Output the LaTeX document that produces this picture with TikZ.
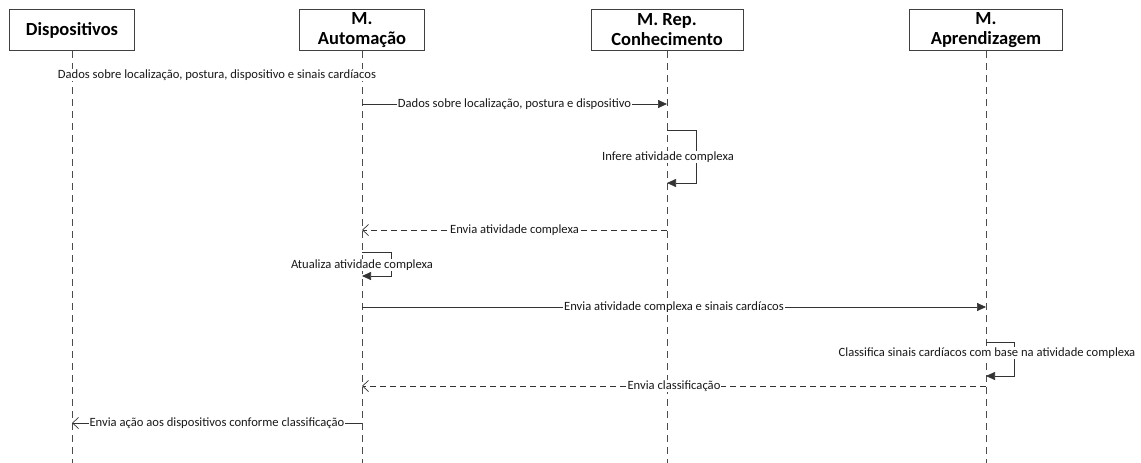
\documentclass[tikz,border=0pt]{standalone}
\usepackage{fontspec}
\setmainfont{Carlito}
\usetikzlibrary{arrows.meta}
\begin{document}
\begin{tikzpicture}[x=1pt,y=-1pt,
  actor/.style={draw=black!75,line width=1pt,fill=white,align=center,
    font=\fontsize{18.5}{20}\selectfont\bfseries,minimum height=41pt,inner sep=0pt},
  lifeline/.style={draw=black!70,line width=0.8pt,dash pattern=on 7pt off 5pt},
  msg/.style={draw=black!80,line width=0.7pt},
  call/.style={msg,-{Triangle[length=9pt,width=8pt]}},
  reply/.style={msg,dash pattern=on 6pt off 4pt,-{Straight Barb[length=6pt,width=11pt,line width=0.7pt]}},
  signal/.style={msg,-{Straight Barb[length=6pt,width=11pt,line width=0.7pt]}},
  lbl/.style={fill=white,inner sep=1pt,font=\fontsize{12.6}{13}\selectfont,text=black!90}]
\useasboundingbox (0,0) rectangle (1141,463);

% participants
\node[actor,minimum width=125pt] (dev) at (72,30) {Dispositivos};
\node[actor,minimum width=125pt] (aut) at (362,30) {M.\\Automação};
\node[actor,minimum width=152pt] (rep) at (667,30) {M. Rep.\\Conhecimento};
\node[actor,minimum width=153pt] (apr) at (986,30) {M.\\Aprendizagem};

% lifeline ends
\coordinate (devE) at (72,463);
\coordinate (autE) at (362,463);
\coordinate (repE) at (667,463);
\coordinate (aprE) at (986,463);
\draw[lifeline] (dev.south) -- (devE);
\draw[lifeline] (aut.south) -- (autE);
\draw[lifeline] (rep.south) -- (repE);
\draw[lifeline] (apr.south) -- (aprE);

% message anchor points on the lifelines
\coordinate (m1) at (217,75);
\coordinate (a2) at (362,104);  \coordinate (r2) at (667,104);
\coordinate (r3a) at (667,130); \coordinate (r3b) at (696,130);
\coordinate (r3c) at (696,183); \coordinate (r3d) at (667,183);
\coordinate (r4) at (667,230);  \coordinate (a4) at (362,230);
\coordinate (a5a) at (362,252); \coordinate (a5b) at (391,252);
\coordinate (a5c) at (391,276); \coordinate (a5d) at (362,276);
\coordinate (a6) at (362,307);  \coordinate (p6) at (986,307);
\coordinate (p7a) at (986,342); \coordinate (p7b) at (1014,342);
\coordinate (p7c) at (1014,376);\coordinate (p7d) at (986,376);
\coordinate (p8) at (986,386);  \coordinate (a8) at (362,386);
\coordinate (a9) at (362,423);  \coordinate (d9) at (72,423);

% messages
\node[lbl] (t1) at (m1) {Dados sobre localização, postura, dispositivo e sinais cardíacos};

\draw[call] (a2) -- node[lbl] (t2) {Dados sobre localização, postura e dispositivo} (r2);

\draw[call] (r3a) -- (r3b) -- (r3c) -- (r3d);
\node[lbl] (t3) at (668,157) {Infere atividade complexa};

\draw[reply] (r4) -- node[lbl] (t4) {Envia atividade complexa} (a4);

\draw[call] (a5a) -- (a5b) -- (a5c) -- (a5d);
\node[lbl] (t5) at (362,265) {Atualiza atividade complexa};

\draw[call] (a6) -- node[lbl] (t6) {Envia atividade complexa e sinais cardíacos} (p6);

\draw[call] (p7a) -- (p7b) -- (p7c) -- (p7d);
\node[lbl] (t7) at (987,353) {Classifica sinais cardíacos com base na atividade complexa};

\draw[reply] (p8) -- node[lbl] (t8) {Envia classificação} (a8);

\draw[signal] (a9) -- node[lbl] (t9) {Envia ação aos dispositivos conforme classificação} (d9);
\end{tikzpicture}
\end{document}
